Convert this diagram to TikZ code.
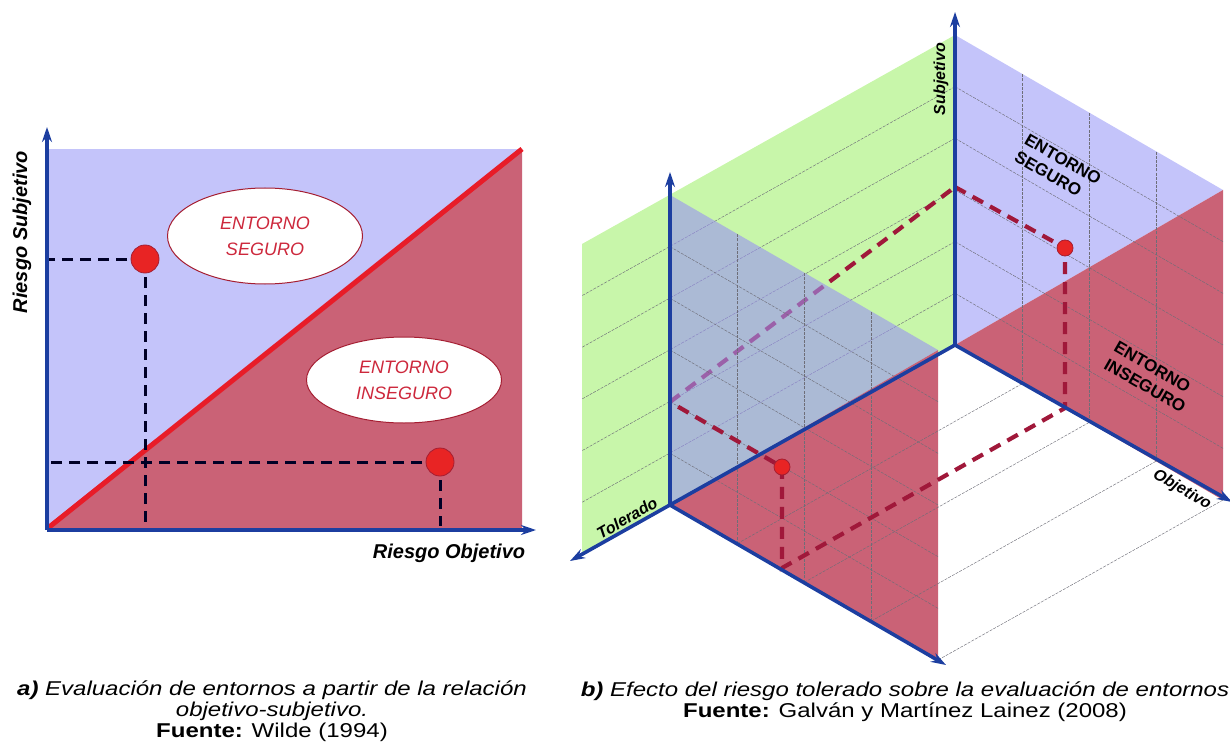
\documentclass[tikz,border=0pt]{standalone}
\usepackage{fontspec}
\setmainfont{Liberation Sans}
\newfontfamily\capfont[FakeStretch=1.2]{Liberation Sans}
\usetikzlibrary{arrows.meta,calc,shapes.geometric}
\definecolor{AxisBlue}{RGB}{28,62,160}
\definecolor{SafeLav}{RGB}{196,196,250}
\definecolor{RiskRose}{RGB}{202,98,118}
\definecolor{LineRed}{RGB}{232,28,40}
\definecolor{PlaneGreen}{RGB}{200,246,170}
\definecolor{VeilBlue}{RGB}{153,146,243}
\definecolor{DashRed}{RGB}{160,24,58}
\definecolor{DotRed}{RGB}{232,36,36}
\definecolor{RimRed}{RGB}{165,30,50}
\definecolor{ZoneText}{RGB}{205,40,60}
\definecolor{GridGray}{RGB}{110,110,120}

\begin{document}
\begin{tikzpicture}[x=1pt,y=-1pt,
  axis/.style={-{Stealth[length=15pt,width=10pt]},line width=3.6pt,draw=AxisBlue},
  guide/.style={line width=3pt,draw=black!85!blue,dash pattern=on 11pt off 7pt},
  route/.style={line width=4.2pt,draw=DashRed,dash pattern=on 12pt off 8pt},
  gridline/.style={draw=GridGray,line width=0.45pt,dash pattern=on 3pt off 1.2pt},
  dot/.style={circle,fill=DotRed,draw=RimRed,line width=0.8pt,inner sep=0pt,minimum size=#1},
  zone/.style={ellipse,draw=RimRed,line width=1pt,fill=white,minimum width=195pt,
               text=ZoneText,align=center,font=\itshape\fontsize{18}{26}\selectfont},
  axlab/.style={font=\bfseries\itshape\fontsize{20}{22}\selectfont,inner sep=0pt},
  lab/.style={font=\bfseries\itshape\fontsize{16}{18}\selectfont,inner sep=0pt},
  zonelab/.style={font=\bfseries\fontsize{17}{20}\selectfont,align=left,inner sep=0pt},
  capt/.style={font=\capfont\itshape\fontsize{20}{21}\selectfont,align=center,inner sep=0pt}]
  \useasboundingbox (0,0) rectangle (1230,751);
  % a) plano objetivo-subjetivo
  \coordinate (a0) at (47,530);
  \coordinate (ay) at (47,127);
  \coordinate (ax) at (536,530);
  \coordinate (m1) at (145,259);
  \coordinate (m2) at (440,462);
  \fill[SafeLav] (47,149) rectangle (522,530);
  \fill[RiskRose] (a0) -- (522,149) -- (522,530) -- cycle;
  \draw[LineRed,line width=5pt] (48,528) -- (522,149);
  \node[zone,minimum height=96pt] (safeA) at (265,236) {ENTORNO\\SEGURO};
  \node[zone,minimum height=86pt] (unsafeA) at (404,380) {ENTORNO\\INSEGURO};
  \draw[guide] (m1) -- (m1 -| a0);
  \draw[guide] (m1) -- ($(m1 |- a0)+(0,-4)$);
  \draw[guide] (m2) -- (m2 -| a0);
  \draw[guide] (m2) -- ($(m2 |- a0)+(0,-4)$);
  \node[dot=28pt] (dotA1) at (m1) {};
  \node[dot=28pt] (dotA2) at (m2) {};
  \draw[axis] (a0) -- (ay);
  \draw[axis] (a0) -- (ax);
  \node[axlab,rotate=90] (ylab) at (22,232) {Riesgo Subjetivo};
  \node[axlab] (xlab) at (449,553) {Riesgo Objetivo};
  % b) riesgo tolerado
  \coordinate (O) at (955,345);
  \coordinate (S) at (955,35);
  \coordinate (B) at (1223,500);
  \coordinate (BS) at (1223,190);
  \coordinate (T) at (670,505);
  \coordinate (TS) at (670,195);
  \coordinate (TB) at (938,660);
  \coordinate (TBS) at (938,350);
  \coordinate (GL) at (582,554);
  \coordinate (GLS) at (582,244);
  \coordinate (A) at (955,187);
  \coordinate (P1) at (1065,248);
  \coordinate (F1) at (1065,408);
  \coordinate (F2) at (782,568);
  \coordinate (P2) at (782,467);
  \coordinate (C) at (670,402);
  \fill[PlaneGreen] (O) -- (S) -- (GLS) -- (GL) -- cycle;
  \foreach \k in {1,...,5}
    \draw[gridline] ($(O)!\k/6!(S)$) -- ($(GL)!\k/6!(GLS)$);
  \fill[SafeLav] (O) -- (S) -- (BS) -- cycle;
  \fill[RiskRose] (O) -- (B) -- (BS) -- cycle;
  \foreach \k in {1,...,3}
    \draw[gridline] ($(O)!\k/4!(B)$) -- ($(S)!\k/4!(BS)$);
  \foreach \k in {1,...,5}
    \draw[gridline] ($(O)!\k/6!(S)$) -- ($(B)!\k/6!(BS)$);
  \fill[RiskRose] (T) -- (TB) -- (TBS) -- cycle;
  \foreach \k in {1,...,4}
    \draw[gridline] ($(O)!\k/4!(B)$) -- ($(T)!\k/4!(TB)$);
  \draw[route] (C) -- (A);
  \fill[VeilBlue,fill opacity=0.6] (T) -- (TS) -- (TBS) -- cycle;
  \foreach \k in {1,...,3}
    \draw[gridline] ($(T)!\k/4!(TB)$) -- ($(TS)!\k/4!(TBS)$);
  \foreach \k in {1,...,5}
    \draw[gridline] ($(T)!\k/6!(TS)$) -- ($(TB)!\k/6!(TBS)$);
  \draw[route] (A) -- (P1) -- (F1) -- (F2) -- (P2) -- (C);
  \draw[axis] (O) -- (955,12);
  \draw[axis] (O) -- (1232,502);
  \draw[axis] (O) -- (570,561);
  \draw[axis] (T) -- (670,172);
  \draw[axis] (T) -- (946,665);
  \node[dot=16pt] (dotB1) at (P1) {};
  \node[dot=16pt] (dotB2) at (P2) {};
  \node[lab,rotate=90] (subj) at (941,79) {Subjetivo};
  \node[lab,rotate=-30] (obj) at (1182,490) {Objetivo};
  \node[lab,rotate=30] (tol) at (627,518) {Tolerado};
  \node[zonelab,rotate=-30] (safeB) at (1058,168) {ENTORNO\\SEGURO};
  \node[zonelab,rotate=-30] (unsafeB) at (1150,377) {ENTORNO\\INSEGURO};
  % pies de figura
  \node[capt] (capA) at (272,711) {\textbf{a)} Evaluación de entornos a partir de la relación\\
    objetivo-subjetivo.\\ \upshape\textbf{Fuente:} Wilde (1994)};
  \node[capt] (capB) at (905,702) {\textbf{b)} Efecto del riesgo tolerado sobre la evaluación de entornos\\
    \upshape\textbf{Fuente:} Galván y Martínez Lainez (2008)};
\end{tikzpicture}
\end{document}
